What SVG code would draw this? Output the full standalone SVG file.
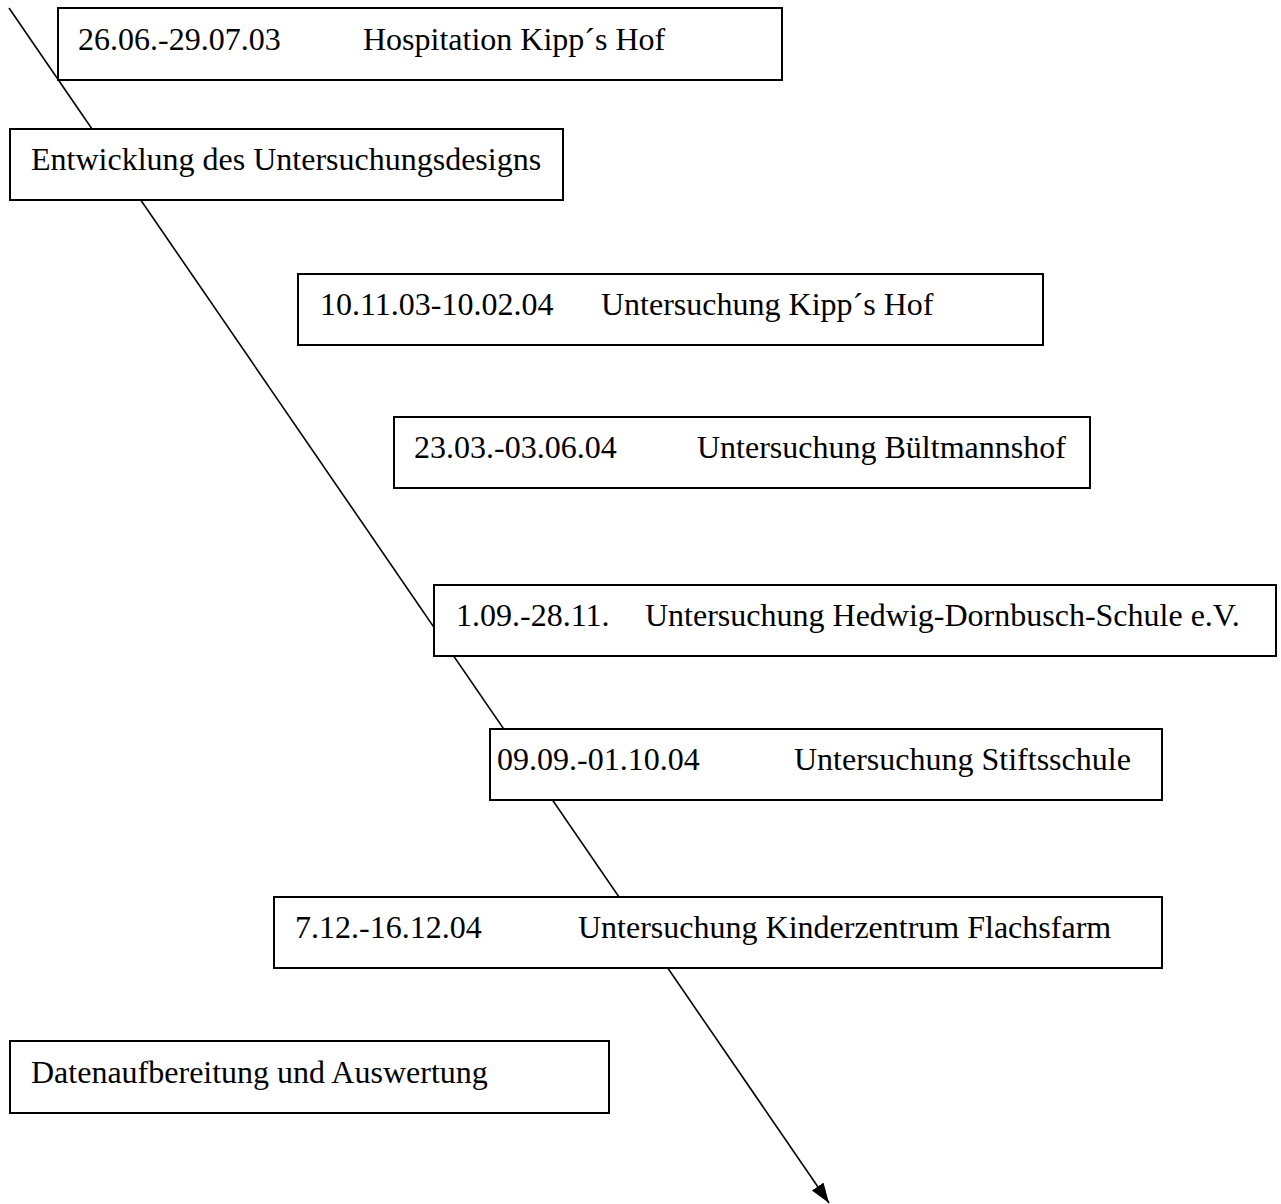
<svg xmlns="http://www.w3.org/2000/svg" width="1281" height="1204" viewBox="0 0 1281 1204">
<style>
.box{fill:#fff;stroke:#000;stroke-width:2}
text{font-family:"Liberation Serif","Times New Roman",serif;font-size:32px;fill:#000}
.conn{stroke:#000;stroke-width:1.6;fill:none}
</style>
<defs>
<marker id="arr" markerUnits="userSpaceOnUse" markerWidth="22" markerHeight="16" refX="20" refY="7" orient="auto">
<path d="M0,0 L20,7 L0,14 z" fill="#000"/>
</marker>
</defs>
<rect width="1281" height="1204" fill="#fff"/>
<g id="connectors">
<line class="conn" x1="9" y1="8" x2="829" y2="1203" marker-end="url(#arr)"/>
</g>
<g id="n1"><rect class="box" x="58" y="8" width="724" height="72"/><text x="78" y="50">26.06.-29.07.03</text><text x="363" y="50">Hospitation Kipp´s Hof</text></g>
<g id="n2"><rect class="box" x="10" y="129" width="553" height="71"/><text x="31" y="170">Entwicklung des Untersuchungsdesigns</text></g>
<g id="n3"><rect class="box" x="298" y="274" width="745" height="71"/><text x="320" y="315">10.11.03-10.02.04</text><text x="601" y="315">Untersuchung Kipp´s Hof</text></g>
<g id="n4"><rect class="box" x="394" y="417" width="696" height="71"/><text x="414" y="458">23.03.-03.06.04</text><text x="697" y="458">Untersuchung Bültmannshof</text></g>
<g id="n5"><rect class="box" x="434" y="585" width="842" height="71"/><text x="456" y="626">1.09.-28.11.</text><text x="645" y="626">Untersuchung Hedwig-Dornbusch-Schule e.V.</text></g>
<g id="n6"><rect class="box" x="490" y="729" width="672" height="71"/><text x="497" y="770">09.09.-01.10.04</text><text x="794" y="770">Untersuchung Stiftsschule</text></g>
<g id="n7"><rect class="box" x="274" y="897" width="888" height="71"/><text x="295" y="938">7.12.-16.12.04</text><text x="578" y="938">Untersuchung Kinderzentrum Flachsfarm</text></g>
<g id="n8"><rect class="box" x="10" y="1041" width="599" height="72"/><text x="31" y="1083">Datenaufbereitung und Auswertung</text></g>
</svg>
